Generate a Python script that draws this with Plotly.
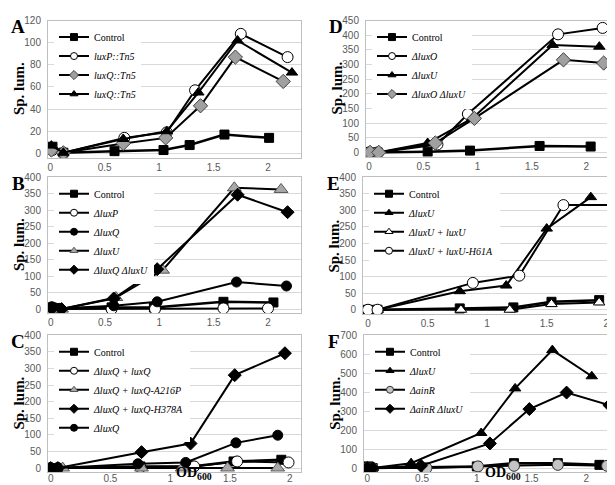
import plotly.graph_objects as go

# ---------------- data ----------------
# Panel A
A_ctrl_x = [0.02, 0.12, 0.59, 1.04, 1.28, 1.60, 2.01]
A_ctrl_y = [6, 0.6, 2, 3, 7.5, 17, 14]
A_luxP_x = [0.02, 0.12, 0.68, 1.07, 1.33, 1.75, 2.18]
A_luxP_y = [3, 0.5, 14, 19, 57, 108, 87]
A_luxQ1_x = [0.01, 0.12, 0.67, 1.06, 1.38, 1.70, 2.14]
A_luxQ1_y = [3, 0.5, 9, 14, 43, 87, 65]
A_luxQ2_x = [0.01, 0.12, 0.67, 1.07, 1.36, 1.72, 2.22]
A_luxQ2_y = [7, 0.5, 13, 20, 55, 102, 73]

# Panel B
B_ctrl_x = [0.01, 0.07, 0.56, 0.95, 1.59, 2.05]
B_ctrl_y = [5, 2, 5, 5, 22, 20]
B_luxP_x = [0.01, 0.07, 0.56, 0.96, 1.59, 2.00]
B_luxP_y = [0, 0, 0, 0, 2, 2]
B_luxQ_x = [0.01, 0.08, 0.58, 0.98, 1.71, 2.17]
B_luxQ_y = [7, 2, 10, 22, 82, 70]
B_luxU_x = [0.01, 0.10, 0.60, 1.03, 1.69, 2.12]
B_luxU_y = [0, 0, 35, 118, 368, 363]
B_luxQU_x = [0.01, 0.10, 0.58, 0.98, 1.72, 2.18]
B_luxQU_y = [2, 0, 32, 121, 347, 294]

# Panel C
C_ctrl_x = [0.00, 0.06, 0.75, 1.18, 1.53, 1.93]
C_ctrl_y = [0, 0, 5, 5, 20, 25]
C_comp_x = [0.00, 0.06, 0.75, 1.20, 1.56, 1.99]
C_comp_y = [0, 0, 3, 5, 20, 17]
C_A216P_x = [0.00, 0.10, 0.76, 1.10, 1.48, 1.90]
C_A216P_y = [0, 0, 0, 0, 0, 0]
C_H378A_x = [0.00, 0.06, 0.76, 1.17, 1.54, 1.96]
C_H378A_y = [0, 0, 48, 74, 280, 346]
C_luxQ_x = [0.00, 0.06, 0.73, 1.13, 1.55, 1.90]
C_luxQ_y = [0, 0, 13, 17, 76, 99]

# Panel D
D_ctrl_x = [0.00, 0.08, 0.54, 0.93, 1.57, 2.04]
D_ctrl_y = [0, 0, 2, 6, 22, 20]
D_luxO_x = [0.00, 0.08, 0.63, 0.91, 1.74, 2.15]
D_luxO_y = [0, 0, 27, 131, 403, 425]
D_luxU_x = [0.00, 0.08, 0.54, 0.95, 1.69, 2.12]
D_luxU_y = [0, 0, 32, 116, 367, 361]
D_luxOU_x = [0.01, 0.09, 0.61, 0.97, 1.79, 2.16]
D_luxOU_y = [0, 0, 32, 116, 316, 305]

# Panel E
E_ctrl_x = [0.00, 0.08, 0.77, 1.22, 1.54, 1.94]
E_ctrl_y = [0, 0, 4, 7, 24, 29]
E_luxU_x = [0.00, 0.08, 0.77, 1.16, 1.50, 1.87]
E_luxU_y = [0, 0, 56, 73, 245, 340]
E_comp_x = [0.00, 0.08, 0.78, 1.19, 1.54, 1.94]
E_comp_y = [0, 0, 0, 0, 17, 22]
E_H61A_x = [0.00, 0.08, 0.88, 1.27, 1.64, 2.06]
E_H61A_y = [0, 0, 81, 103, 316, 316]

# Panel F
F_ctrl_x = [0.00, 0.05, 1.00, 1.34, 1.74, 2.12]
F_ctrl_y = [9, 0, 9, 26, 26, 17]
F_luxU_x = [0.00, 0.05, 0.40, 1.04, 1.35, 1.69, 2.05]
F_luxU_y = [0, 0, 26, 185, 420, 622, 484]
F_ainR_x = [0.00, 0.05, 0.54, 1.01, 1.34, 1.74, 2.19]
F_ainR_y = [0, 0, 0, 9, 12, 17, 12]
F_ainRU_x = [0.00, 0.05, 0.49, 1.12, 1.48, 1.82, 2.21]
F_ainRU_y = [0, 0, 12, 130, 311, 398, 332]

x_ticks = [0, 0.5, 1, 1.5, 2]
x_tick_text = ["0", "0.5", "1", "1.5", "2"]

# ---------------- styles ----------------
W, H = 615, 485
SERIF = "Liberation Serif"
SANS = "Liberation Sans"

sty = {
    "sq": dict(symbol="square", color="black", size=9, line=dict(color="black", width=1)),
    "oc": dict(symbol="circle", color="white", size=11, line=dict(color="black", width=1)),
    "gd": dict(symbol="diamond", color="#a0a0a0", size=11, line=dict(color="#404040", width=1)),
    "bt": dict(symbol="triangle-up", color="black", size=10, line=dict(color="black", width=1)),
    "bc": dict(symbol="circle", color="black", size=10, line=dict(color="black", width=1)),
    "gt": dict(symbol="triangle-up", color="#a8a8a8", size=12, line=dict(color="#555555", width=1)),
    "bd": dict(symbol="diamond", color="black", size=10, line=dict(color="black", width=1)),
    "ot": dict(symbol="triangle-up", color="white", size=10, line=dict(color="black", width=1)),
    "gc": dict(symbol="circle", color="#c4c4c4", size=11, line=dict(color="#333333", width=1)),
}

# panel geometry in pixels: box left, right, top, bottom; x0 pixel, px/unit; y0 pixel, px/unit
panels = {
    "A": dict(l=40, r=293, t=6.7, b=146, x0=42.3, xs=108.85, y0=141.7, ys=1.125, ymax=120, dy=20, ax=1),
    "B": dict(l=40, r=293, t=166, b=304, x0=42.7, xs=108.65, y0=300, ys=0.335, ymax=400, dy=50, ax=2),
    "C": dict(l=40, r=293, t=326.7, b=465.5, x0=42.7, xs=119.5, y0=461.7, ys=0.3375, ymax=400, dy=50, ax=3),
    "D": dict(l=358, r=608, t=6.7, b=145, x0=361, xs=108.65, y0=140.7, ys=0.2978, ymax=450, dy=50, ax=4),
    "E": dict(l=355, r=610, t=166, b=305, x0=360, xs=119.15, y0=300.7, ys=0.3368, ymax=400, dy=50, ax=5),
    "F": dict(l=356, r=607, t=326.7, b=466, x0=359.3, xs=109.5, y0=461.7, ys=0.1929, ymax=700, dy=100, ax=6),
}

series = {
    "A": [(A_ctrl_x, A_ctrl_y, "Control", "sq"),
          (A_luxP_x, A_luxP_y, "<i>luxP::Tn5</i>", "oc"),
          (A_luxQ1_x, A_luxQ1_y, "<i>luxQ::Tn5</i>", "gd"),
          (A_luxQ2_x, A_luxQ2_y, "<i>luxQ::Tn5</i>", "bt")],
    "B": [(B_ctrl_x, B_ctrl_y, "Control", "sq"),
          (B_luxP_x, B_luxP_y, "<i>ΔluxP</i>", "oc"),
          (B_luxQ_x, B_luxQ_y, "<i>ΔluxQ</i>", "bc"),
          (B_luxU_x, B_luxU_y, "<i>ΔluxU</i>", "gt"),
          (B_luxQU_x, B_luxQU_y, "<i>ΔluxQ ΔluxU</i>", "bd")],
    "C": [(C_ctrl_x, C_ctrl_y, "Control", "sq"),
          (C_comp_x, C_comp_y, "<i>ΔluxQ + luxQ</i>", "oc"),
          (C_A216P_x, C_A216P_y, "<i>ΔluxQ + luxQ-A216P</i>", "gt"),
          (C_H378A_x, C_H378A_y, "<i>ΔluxQ + luxQ-H378A</i>", "bd"),
          (C_luxQ_x, C_luxQ_y, "<i>ΔluxQ</i>", "bc")],
    "D": [(D_ctrl_x, D_ctrl_y, "Control", "sq"),
          (D_luxO_x, D_luxO_y, "<i>ΔluxO</i>", "oc"),
          (D_luxU_x, D_luxU_y, "<i>ΔluxU</i>", "bt"),
          (D_luxOU_x, D_luxOU_y, "<i>ΔluxO ΔluxU</i>", "gd")],
    "E": [(E_ctrl_x, E_ctrl_y, "Control", "sq"),
          (E_luxU_x, E_luxU_y, "<i>ΔluxU</i>", "bt"),
          (E_comp_x, E_comp_y, "<i>ΔluxU + luxU</i>", "ot"),
          (E_H61A_x, E_H61A_y, "<i>ΔluxU + luxU-H61A</i>", "oc")],
    "F": [(F_ctrl_x, F_ctrl_y, "Control", "sq"),
          (F_luxU_x, F_luxU_y, "<i>ΔluxU</i>", "bt"),
          (F_ainR_x, F_ainR_y, "<i>ΔainR</i>", "gc"),
          (F_ainRU_x, F_ainRU_y, "<i>ΔainR ΔluxU</i>", "bd")],
}

fig = go.Figure()
layout = dict(width=W, height=H, margin=dict(l=0, r=0, t=0, b=0),
              paper_bgcolor="white", plot_bgcolor="white", showlegend=True)
annotations = []

for name, p in panels.items():
    i = p["ax"]
    xa = "xaxis" if i == 1 else f"xaxis{i}"
    ya = "yaxis" if i == 1 else f"yaxis{i}"
    xref = "x" if i == 1 else f"x{i}"
    yref = "y" if i == 1 else f"y{i}"
    lg = "legend" if i == 1 else f"legend{i}"
    xr = [(p["l"] - p["x0"]) / p["xs"], (p["r"] - p["x0"]) / p["xs"]]
    yr = [(p["y0"] - p["b"]) / p["ys"], p["ymax"] + 0.001]
    bottom_row = name in ("C", "F")
    layout[xa] = dict(domain=[p["l"] / W, p["r"] / W], range=xr, anchor=yref,
                      tickvals=x_ticks, ticktext=x_tick_text, showgrid=False, zeroline=False,
                      showline=True, mirror=True, linecolor="#bfbfbf", linewidth=1,
                      ticks="", ticklabelstandoff=-3 if bottom_row else 0,
                      tickfont=dict(family=SANS, size=10, color="#595959"))
    layout[ya] = dict(domain=[1 - p["b"] / H, 1 - p["t"] / H], range=yr, anchor=xref,
                      tick0=0, dtick=p["dy"], showgrid=True, gridcolor="#d9d9d9", gridwidth=1,
                      zeroline=False, showline=True, mirror=True, linecolor="#bfbfbf", linewidth=1,
                      ticks="", ticklabelstandoff=4,
                      tickfont=dict(family=SANS, size=10, color="#595959"))
    for (xs, ys, label, st) in series[name]:
        m = sty[st]
        lw = 2.5 if label == "Control" else 2
        # data trace
        fig.add_trace(go.Scatter(
            x=xs, y=ys, name=label, mode="lines+markers", xaxis=xref, yaxis=yref,
            showlegend=False,
            line=dict(color="black", width=lw),
            marker=dict(symbol=m["symbol"], color=m["color"], size=m["size"], line=m["line"]),
        ))
        # legend key (no data, small symbol like the original legend)
        fig.add_trace(go.Scatter(
            x=[None], y=[None], name=label, mode="lines+markers", xaxis=xref, yaxis=yref,
            legend=lg, showlegend=True,
            line=dict(color="black", width=2),
            marker=dict(symbol=m["symbol"], color=m["color"], size=7, line=m["line"]),
        ))
    layout[lg] = dict(x=(p["l"] + 6) / W, y=1 - (p["t"] + 2) / H, xanchor="left", yanchor="top",
                      bgcolor="white", borderwidth=0, itemsizing="trace", itemwidth=30,
                      font=dict(family=SERIF, size=10, color="black"), tracegroupgap=0)
    # panel letter
    annotations.append(dict(text=f"<b>{name}</b>", x=(p["l"] - 30) / W, y=1 - (p["t"] + 6) / H,
                            xref="paper", yref="paper", showarrow=False, xanchor="center",
                            yanchor="middle", font=dict(family=SERIF, size=19, color="black")))
    # y title
    annotations.append(dict(text="<b>Sp. lum.</b>", x=(p["l"] - 29) / W, y=1 - ((p["t"] + p["b"]) / 2) / H,
                            xref="paper", yref="paper", showarrow=False, textangle=-90,
                            xanchor="center", yanchor="middle",
                            font=dict(family=SERIF, size=15, color="black")))

for cx in (186, 495):
    annotations.append(dict(text="<b>OD<sub>600</sub></b>", x=cx / W, y=1 - 478 / H,
                            xref="paper", yref="paper", showarrow=False, xanchor="center",
                            yanchor="bottom", font=dict(family=SERIF, size=14, color="black")))

layout["annotations"] = annotations
fig.update_layout(**layout)
fig.write_html("out.html")
